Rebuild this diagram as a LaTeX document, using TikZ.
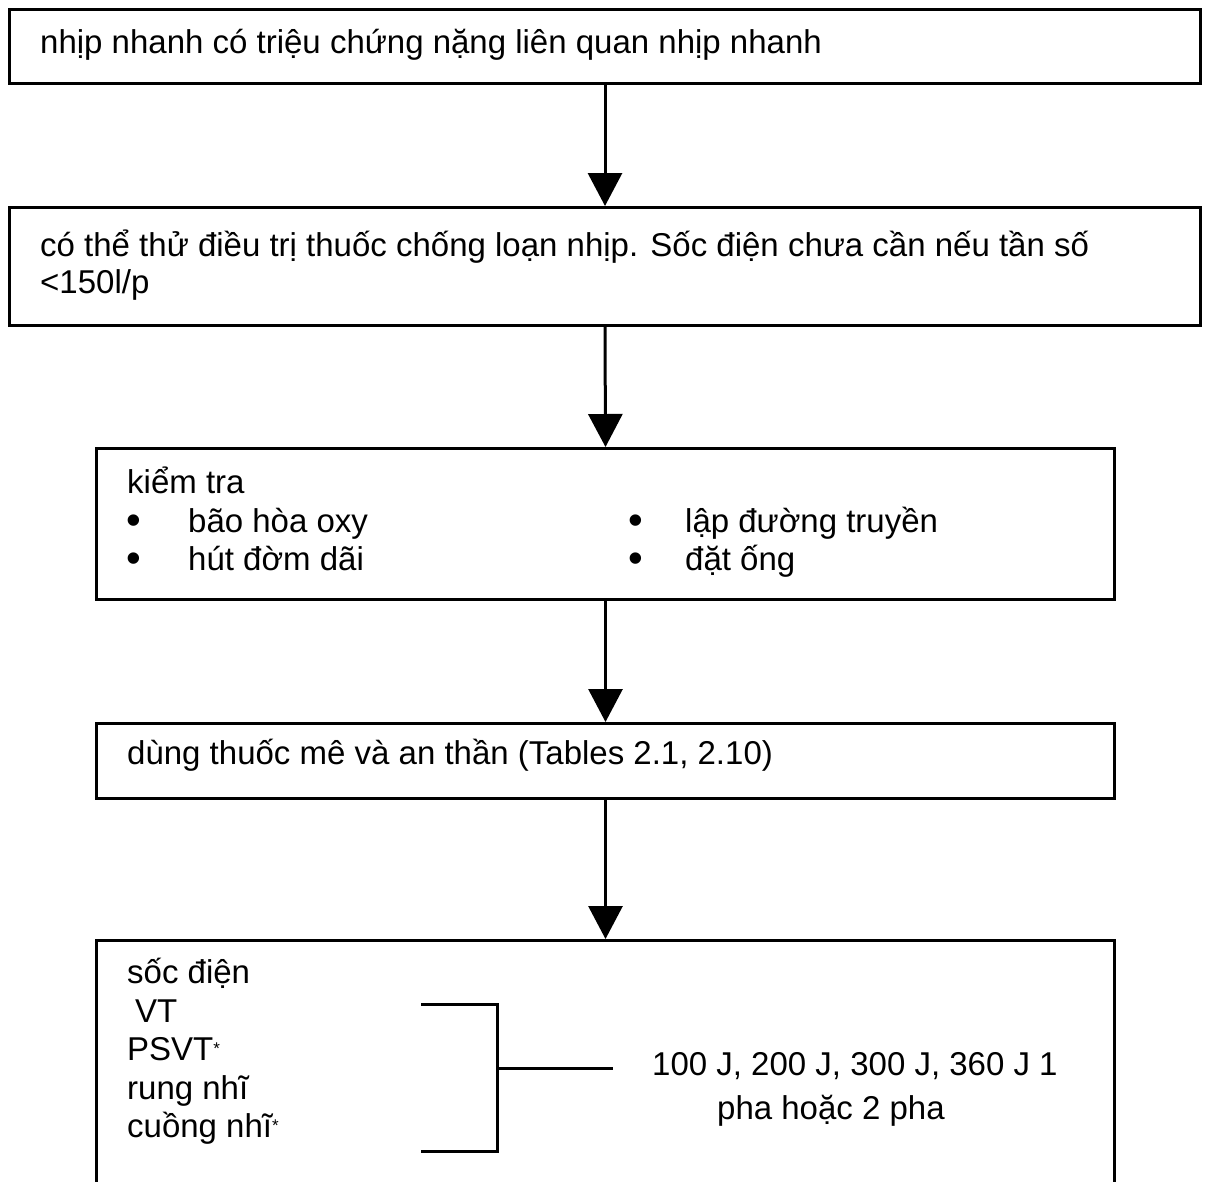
\documentclass[tikz,border=0pt]{standalone}
\usepackage{fontspec}
\setmainfont{Liberation Sans}
\usetikzlibrary{arrows.meta}
\newcommand{\astk}{\raisebox{6pt}{\fontsize{17}{17}\selectfont *}}
\begin{document}
\begin{tikzpicture}[x=1pt,y=-1pt,
  box/.style={draw,line width=3pt,inner sep=0pt,anchor=north west},
  txt/.style={anchor=base west,inner sep=0pt,font=\fontsize{33}{38}\selectfont},
  bul/.style={anchor=base,inner sep=0pt,text height=20pt,text depth=0pt,font=\fontsize{42}{42}\selectfont},
  arr/.style={line width=3pt,-{Triangle[width=34pt,length=33pt]}},
  ln/.style={line width=3pt}]
\useasboundingbox (0,0) rectangle (1205,1181);
\clip (0,0) rectangle (1205,1181);
% boxes
\node[box,minimum width=1191pt,minimum height=74pt] (b1) at (8,8) {};
\node[box,minimum width=1191pt,minimum height=118pt] (b2) at (8,206) {};
\node[box,minimum width=1018pt,minimum height=151pt] (b3) at (95,447) {};
\node[box,minimum width=1018pt,minimum height=75pt] (b4) at (95,722) {};
\node[box,minimum width=1018pt,minimum height=300pt] (b5) at (95,939) {};
% arrows
\draw[arr] (b1.south) -- (b2.north);
\draw[arr] (b2.south) -- (b3.north);
\draw[arr] (b3.south) -- (b4.north);
\draw[arr] (b4.south) -- (b5.north);
% texts
\node[txt] (t1) at (40,53) {nhịp nhanh có triệu chứng nặng liên quan nhịp nhanh};
\node[txt] (t2a) at (40,256) {có thể thử điều trị thuốc chống loạn nhịp. Sốc điện chưa cần nếu tần số};
\node[txt] (t2b) at (40,293) {<150l/p};
\node[txt] (t3) at (127,493) {kiểm tra};
\node[bul] (u1) at (134,534) {•};
\node[txt] (t3a) at (188,532) {bão hòa oxy};
\node[bul] (u2) at (134,572) {•};
\node[txt] (t3b) at (188,570) {hút đờm dãi};
\node[bul] (u3) at (636,534) {•};
\node[txt] (t3c) at (685,532) {lập đường truyền};
\node[bul] (u4) at (636,572) {•};
\node[txt] (t3d) at (685,570) {đặt ống};
\node[txt] (t4) at (127,764) {dùng thuốc mê và an thần (Tables 2.1, 2.10)};
\node[txt] (t5) at (127,983) {sốc điện};
\node[txt] (t5a) at (135,1022) {VT};
\node[txt] (t5b) at (127,1060) {PSVT\astk};
\node[txt] (t5c) at (127,1099) {rung nhĩ};
\node[txt] (t5d) at (127,1137) {cuồng nhĩ\astk};
\node[txt] (r1) at (652,1075) {100 J, 200 J, 300 J, 360 J 1};
\node[txt] (r2) at (717,1119) {pha hoặc 2 pha};
% bracket
\coordinate (k1) at (421,1004);
\coordinate (k2) at (497,1004);
\coordinate (k3) at (497,1151);
\coordinate (k4) at (421,1151);
\coordinate (km) at (497,1068);
\coordinate (ke) at (613,1068);
\draw[ln] (k1) -- (k2) -- (k3) -- (k4);
\draw[ln] (km) -- (ke);
\end{tikzpicture}
\end{document}
